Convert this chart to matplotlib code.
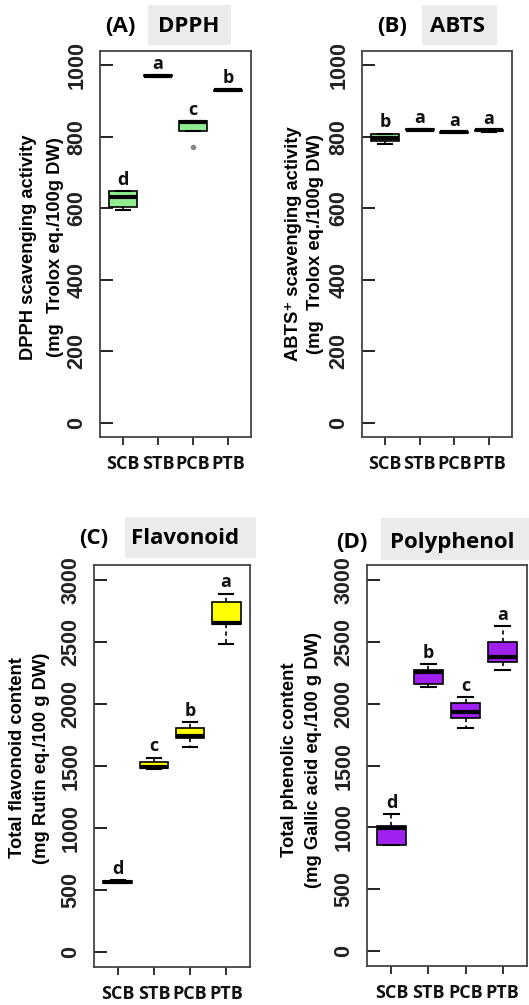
import matplotlib
matplotlib.use("Agg")
import matplotlib.pyplot as plt
import matplotlib.patches as mpatches

W, H = 529, 1005

groups = ['SCB', 'STB', 'PCB', 'PTB']

# DPPH
dpph_whislo = [596, 968, 817, 927]
dpph_q1 = [604, 969, 817, 929]
dpph_med = [632, 971, 840, 931]
dpph_q3 = [649, 973, 845, 932]
dpph_whishi = [649, 974, 845, 933]
dpph_fliers = [[], [], [772], []]
dpph_letters = ['d', 'a', 'c', 'b']

# ABTS
abts_whislo = [781, 818, 810, 814]
abts_q1 = [788, 819, 811, 817]
abts_med = [797, 820, 812, 818]
abts_q3 = [807, 821, 813, 819]
abts_whishi = [809, 822, 814, 820]
abts_fliers = [[], [], [], []]
abts_letters = ['b', 'a', 'a', 'a']

# Flavonoid
flav_whislo = [555, 1478, 1657, 2484]
flav_q1 = [558, 1480, 1722, 2644]
flav_med = [565, 1492, 1745, 2650]
flav_q3 = [575, 1535, 1808, 2820]
flav_whishi = [580, 1568, 1857, 2890]
flav_fliers = [[], [], [], []]
flav_letters = ['d', 'c', 'b', 'a']

# Polyphenol
poly_whislo = [860, 2133, 1800, 2273]
poly_q1 = [860, 2157, 1882, 2336]
poly_med = [995, 2255, 1935, 2374]
poly_q3 = [1011, 2273, 2003, 2495]
poly_whishi = [1105, 2320, 2052, 2625]
poly_fliers = [[], [], [], []]
poly_letters = ['d', 'b', 'c', 'a']

dpph_ticks = [0, 200, 400, 600, 800, 1000]
big_ticks = [0, 500, 1000, 1500, 2000, 2500, 3000]

fig = plt.figure(figsize=(W / 100, H / 100), dpi=100)

def px_rect(x0, y0, x1, y1):
    return [x0 / W, (H - y1) / H, (x1 - x0) / W, (y1 - y0) / H]

TICKFONT = ['Liberation Sans', 'DejaVu Sans']
LETFONT = ['Open Sans', 'DejaVu Sans']

def panel(rect, whislo, q1, med, q3, whishi, fliers, letters, color,
          yticks, ylim, xpad):
    ax = fig.add_axes(px_rect(*rect))
    stats = []
    for i in range(len(groups)):
        stats.append(dict(whislo=whislo[i], q1=q1[i], med=med[i], q3=q3[i],
                          whishi=whishi[i], fliers=fliers[i], label=groups[i]))
    ax.bxp(stats, positions=range(1, len(groups) + 1), widths=0.8,
           patch_artist=True, showfliers=True,
           boxprops=dict(facecolor=color, edgecolor='black', linewidth=1.2),
           medianprops=dict(color='black', linewidth=3.0, solid_capstyle='butt'),
           whiskerprops=dict(color='black', linewidth=1.2, linestyle=(0, (2.5, 2))),
           capprops=dict(color='black', linewidth=1.5),
           capwidths=0.4,
           flierprops=dict(marker='o', markersize=3, markerfacecolor='#888888',
                           markeredgecolor='#888888'))
    for i, lt in enumerate(letters):
        ax.annotate(lt, (i + 1, whishi[i]), xytext=(0, 1.5), textcoords='offset points',
                    ha='center', va='bottom', fontsize=13, fontweight='bold',
                    family=LETFONT, color='#111111')
    ax.set_xlim(0.34, 4.66)
    ax.set_ylim(*ylim)
    ax.tick_params(axis='y', direction='in', length=9, width=1.4, pad=9, color='#222222')
    ax.tick_params(axis='x', direction='out', length=6, width=1.4, pad=xpad, color='#333333')
    ax.set_yticks(yticks, labels=[str(t) for t in yticks], fontsize=15.5,
                  fontweight='bold', family=TICKFONT, rotation=90, va='center',
                  ha='right', color='#222222')
    ax.set_xticks(range(1, len(groups) + 1), labels=groups, fontsize=13,
                  fontweight='bold', family=LETFONT, color='#111111')
    for s in ax.spines.values():
        s.set_color('#444444')
        s.set_linewidth(1.3)
    return ax

panel((100, 51, 251, 437), dpph_whislo, dpph_q1, dpph_med, dpph_q3, dpph_whishi,
      dpph_fliers, dpph_letters, '#90EE90', dpph_ticks, (-40, 1040), 7)
panel((362, 51, 512, 437), abts_whislo, abts_q1, abts_med, abts_q3, abts_whishi,
      abts_fliers, abts_letters, '#90EE90', dpph_ticks, (-40, 1040), 7)
panel((94, 565, 250, 967), flav_whislo, flav_q1, flav_med, flav_q3, flav_whishi,
      flav_fliers, flav_letters, '#FFFF00', big_ticks, (-120, 3120), 7)
panel((367, 565, 527, 966), poly_whislo, poly_q1, poly_med, poly_q3, poly_whishi,
      poly_fliers, poly_letters, '#A020F0', big_ticks, (-120, 3120), 7)

def ftext(x, y, s, **kw):
    fig.text(x / W, 1 - y / H, s, **kw)

def gray_box(x0, y0, x1, y1):
    fig.patches.append(mpatches.Rectangle((x0 / W, 1 - y1 / H), (x1 - x0) / W,
                                          (y1 - y0) / H, transform=fig.transFigure,
                                          facecolor='#EBEBEB', edgecolor='none', zorder=0))

TFONT = ['Open Sans', 'DejaVu Sans']
# titles
gray_box(148, 5, 231, 45)
ftext(120, 26, '(A)', ha='center', va='center', fontsize=16, fontweight='bold', family=TFONT)
ftext(189, 26, 'DPPH', ha='center', va='center', fontsize=16, fontweight='bold', family=TFONT)
gray_box(422, 5, 497, 45)
ftext(392, 26, '(B)', ha='center', va='center', fontsize=16, fontweight='bold', family=TFONT)
ftext(458, 26, 'ABTS', ha='center', va='center', fontsize=16, fontweight='bold', family=TFONT)
gray_box(125, 517, 256, 558)
ftext(94, 539, '(C)', ha='center', va='center', fontsize=16, fontweight='bold', family=TFONT)
ftext(185, 539, 'Flavonoid', ha='center', va='center', fontsize=16, fontweight='bold', family=TFONT)
gray_box(381, 518, 529, 560)
ftext(352, 542, '(D)', ha='center', va='center', fontsize=16, fontweight='bold', family=TFONT)
ftext(452, 542, 'Polyphenol', ha='center', va='center', fontsize=16, fontweight='bold', family=TFONT)

# y labels
LFONT = ['Liberation Sans', 'DejaVu Sans']
lk = dict(rotation=90, ha='center', va='center', fontsize=13.2, fontweight='bold', family=LFONT)
ftext(29, 247, 'DPPH scavenging activity', **lk)
ftext(56, 247, '(mg  Trolox eq./100g DW)', **lk)
ftext(293, 244, 'ABTS\u207a scavenging activity', **lk)
ftext(315, 244, '(mg  Trolox eq./100g DW)', **lk)
ftext(18, 758, 'Total flavonoid content', **lk)
ftext(42, 758, '(mg Rutin eq./100 g DW)', **lk)
ftext(290, 760, 'Total phenolic content', **lk)
ftext(314, 760, '(mg Gallic acid eq./100 g DW)', **lk)

fig.savefig('out.png', dpi=100)
